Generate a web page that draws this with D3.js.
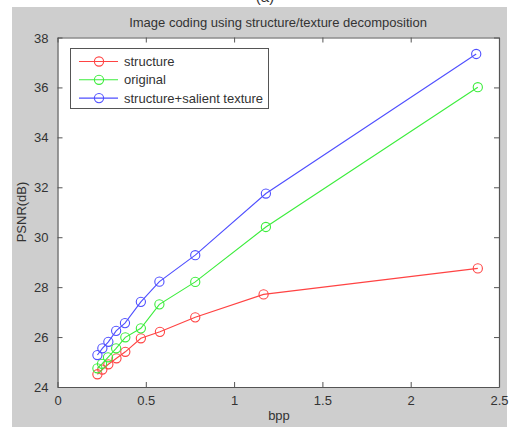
<!DOCTYPE html>
<html>
<head>
<meta charset="utf-8">
<script src="https://cdn.jsdelivr.net/npm/d3@7"></script>
<style>
  html, body { margin: 0; padding: 0; background: #ffffff; }
  svg { display: block; }
  text { font-family: "Liberation Sans", Arial, sans-serif; fill: #333; }
</style>
</head>
<body>
<svg id="chart" width="511" height="429"></svg>
<script>
// Rate–distortion curves (bits per pixel vs PSNR)
const seriesNames = ["structure", "original", "structure+salient texture"];
const seriesColors = ["#ff4343", "#3ced3c", "#4f4fff"];

const structureBpp  = [0.226, 0.254, 0.288, 0.334, 0.384, 0.472, 0.580, 0.780, 1.167, 2.380];
const structurePsnr = [24.51, 24.70, 24.91, 25.15, 25.41, 25.95, 26.21, 26.79, 27.71, 28.75];

const originalBpp   = [0.226, 0.252, 0.286, 0.332, 0.384, 0.472, 0.577, 0.780, 1.180, 2.380];
const originalPsnr  = [24.75, 24.93, 25.19, 25.55, 25.99, 26.35, 27.31, 28.21, 30.41, 36.01];

const salientBpp    = [0.226, 0.254, 0.288, 0.332, 0.382, 0.472, 0.577, 0.780, 1.180, 2.371];
const salientPsnr   = [25.28, 25.55, 25.81, 26.25, 26.56, 27.41, 28.22, 29.28, 31.75, 37.34];

const xTicks = [0, 0.5, 1, 1.5, 2, 2.5];
const yTicks = [24, 26, 28, 30, 32, 34, 36, 38];

const series = [
  { name: seriesNames[0], color: seriesColors[0], pts: structureBpp.map((b, i) => [b, structurePsnr[i]]) },
  { name: seriesNames[1], color: seriesColors[1], pts: originalBpp.map((b, i) => [b, originalPsnr[i]]) },
  { name: seriesNames[2], color: seriesColors[2], pts: salientBpp.map((b, i) => [b, salientPsnr[i]]) }
];

const svg = d3.select("#chart");

// figure background
svg.append("rect").attr("x", 12).attr("y", 7).attr("width", 495).attr("height", 420)
  .attr("fill", "#cecece");

// caption fragment at the very top
svg.append("text").attr("x", 265).attr("y", 2).attr("text-anchor", "middle")
  .style("font-size", "15px").text("(a)");

const plotLeft = 57.5, plotRight = 499, plotTop = 37.5, plotBottom = 387;
const x = d3.scaleLinear().domain([0, 2.5]).range([plotLeft, plotRight]);
const y = d3.scaleLinear().domain([24, 38]).range([plotBottom, plotTop]);

// plot area
svg.append("rect").attr("x", plotLeft).attr("y", plotTop)
  .attr("width", plotRight - plotLeft).attr("height", plotBottom - plotTop).attr("fill", "#ffffff");

const axisColor = "#555";
const tickLen = 5;
const fontSize = "13px";

// axes with inward ticks (box on all four sides)
const gx = svg.append("g").attr("transform", `translate(0,${plotBottom})`)
  .call(d3.axisBottom(x).tickValues(xTicks).tickSizeInner(-tickLen).tickSizeOuter(0)
    .tickPadding(8).tickFormat(d3.format("")));
const gxt = svg.append("g").attr("transform", `translate(0,${plotTop})`)
  .call(d3.axisTop(x).tickValues(xTicks).tickSizeInner(-tickLen).tickSizeOuter(0).tickFormat(""));
const gy = svg.append("g").attr("transform", `translate(${plotLeft},0)`)
  .call(d3.axisLeft(y).tickValues(yTicks).tickSizeInner(-tickLen).tickSizeOuter(0)
    .tickPadding(9).tickFormat(d3.format("")));
const gyr = svg.append("g").attr("transform", `translate(${plotRight},0)`)
  .call(d3.axisRight(y).tickValues(yTicks).tickSizeInner(-tickLen).tickSizeOuter(0).tickFormat(""));

[gx, gxt, gy, gyr].forEach(g => {
  g.select(".domain").attr("stroke", axisColor).attr("stroke-width", 1.2);
  g.selectAll(".tick line").attr("stroke", axisColor);
  g.selectAll(".tick text").style("font-size", fontSize).attr("fill", "#333")
    .style("font-family", "'Liberation Sans', Arial, sans-serif");
});
gx.selectAll(".tick text").attr("dy", "0.8em");
gy.selectAll(".tick text").attr("dy", "0.35em");

// series lines and circle markers
const line = d3.line().x(d => x(d[0])).y(d => y(d[1]));
series.forEach(s => {
  svg.append("path").datum(s.pts).attr("d", line)
    .attr("fill", "none").attr("stroke", s.color).attr("stroke-width", 1.1);
  svg.append("g").selectAll("circle").data(s.pts).join("circle")
    .attr("cx", d => x(d[0])).attr("cy", d => y(d[1])).attr("r", 4.6)
    .attr("fill", "none").attr("stroke", s.color).attr("stroke-width", 1.1);
});

// title and axis labels
svg.append("text").attr("x", 278).attr("y", 26.5).attr("text-anchor", "middle")
  .style("font-size", fontSize).text("Image coding using structure/texture decomposition");
svg.append("text").attr("x", 279).attr("y", 420).attr("text-anchor", "middle")
  .style("font-size", fontSize).text("bpp");
svg.append("text").attr("transform", "translate(26,212) rotate(-90)").attr("text-anchor", "middle")
  .style("font-size", fontSize).text("PSNR(dB)");

// legend
const lg = svg.append("g");
lg.append("rect").attr("x", 70.5).attr("y", 48.5).attr("width", 198).attr("height", 60)
  .attr("fill", "#ffffff").attr("stroke", axisColor).attr("stroke-width", 1);
series.forEach((s, i) => {
  const ry = 61.5 + i * 18.3;
  lg.append("line").attr("x1", 79).attr("x2", 118).attr("y1", ry).attr("y2", ry)
    .attr("stroke", s.color).attr("stroke-width", 1.1);
  lg.append("circle").attr("cx", 99).attr("cy", ry).attr("r", 4.6)
    .attr("fill", "none").attr("stroke", s.color).attr("stroke-width", 1.1);
  lg.append("text").attr("x", 124).attr("y", ry).attr("dy", "0.36em")
    .style("font-size", fontSize).text(s.name);
});
</script>
</body>
</html>
